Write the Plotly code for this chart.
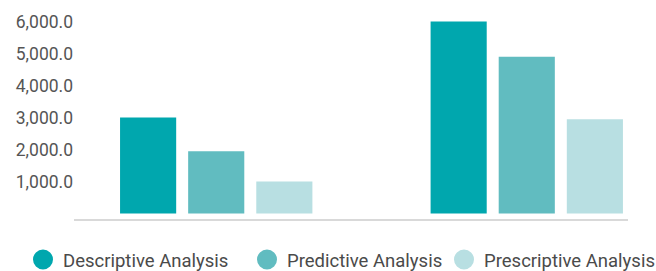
import plotly.graph_objects as go

categories = ["Group 1", "Group 2"]
series_names = ["Descriptive Analysis", "Predictive Analysis", "Prescriptive Analysis"]
descriptive = [3000, 6000]
predictive = [1950, 4900]
prescriptive = [1000, 2950]
colors = ["#00A7AE", "#61BCC0", "#B8DFE2"]
tick_values = [1000, 2000, 3000, 4000, 5000, 6000]

legend_x = [23, 247, 444]  # left edge of each legend entry (px)

fig = go.Figure()
for i, (name, vals, col) in enumerate(zip(series_names, [descriptive, predictive, prescriptive], colors)):
    fig.add_trace(go.Bar(x=categories, y=vals, name=name, showlegend=False,
                         marker=dict(color=col, line=dict(width=0))))
    lg = "legend" if i == 0 else f"legend{i+1}"
    fig.add_trace(go.Scatter(x=[None], y=[None], mode="markers", name=name, legend=lg,
                             marker=dict(symbol="circle", size=16, color=col,
                                         line=dict(color=col, width=4))))

legend_common = dict(orientation="h", xanchor="left", yanchor="middle",
                     xref="container", yref="container", y=1 - 260 / 271,
                     font=dict(family="Roboto", size=18.5, color="#4A4A4A"),
                     itemsizing="trace", bgcolor="rgba(0,0,0,0)", borderwidth=0)

fig.update_layout(
    width=656, height=271,
    margin=dict(l=74, r=28, t=10, b=52, autoexpand=False),
    plot_bgcolor="white", paper_bgcolor="white",
    barmode="group", bargap=0.342, bargroupgap=0.176,
    font=dict(family="Roboto", size=17, color="#555555"),
    legend=dict(x=legend_x[0] / 656, **legend_common),
    legend2=dict(x=legend_x[1] / 656, **legend_common),
    legend3=dict(x=legend_x[2] / 656, **legend_common),
    xaxis=dict(type="category", range=[-0.458, 1.326], showticklabels=False,
               showgrid=False, showline=True, linecolor="#D9D9D9", linewidth=2,
               ticks="", zeroline=False),
    yaxis=dict(range=[-170, 6360], tickvals=tick_values, tickformat=",.1f",
               showgrid=False, zeroline=False, showline=False, ticks="",
               tickfont=dict(family="Roboto", size=17.5, color="#555555")),
)
fig.write_html("out.html", config={"displayModeBar": False},
               post_script="document.body.style.margin='0';document.body.style.overflow='hidden';")
